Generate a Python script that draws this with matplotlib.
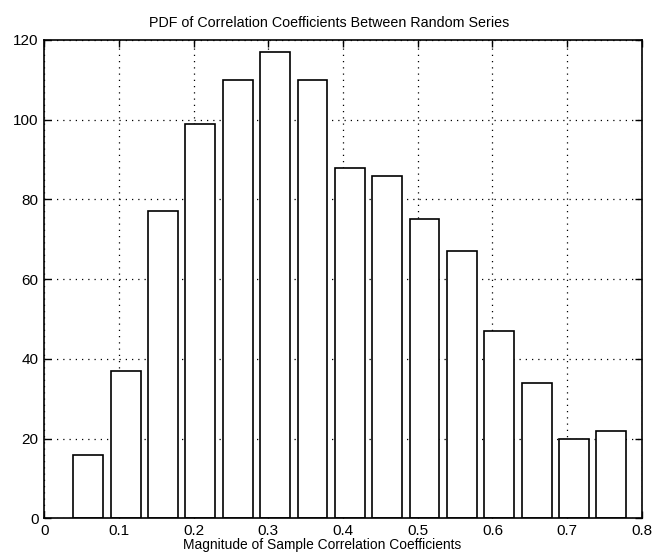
import matplotlib
matplotlib.use("Agg")
import matplotlib.pyplot as plt
import numpy as np

plt.rcParams['font.family'] = ['Liberation Sans', 'DejaVu Sans']

# Bin centres and counts
bin_centers = [0.059, 0.109, 0.159, 0.209, 0.259, 0.309, 0.359, 0.409,
               0.459, 0.509, 0.559, 0.609, 0.659, 0.709, 0.759]
counts = [16, 37, 77, 99, 110, 117, 110, 88, 86, 75, 67, 47, 34, 20, 22]
x_ticks = [0, 0.1, 0.2, 0.3, 0.4, 0.5, 0.6, 0.7, 0.8]
x_tick_labels = ['0', '0.1', '0.2', '0.3', '0.4', '0.5', '0.6', '0.7', '0.8']
y_ticks = [0, 20, 40, 60, 80, 100, 120]

title = 'PDF of Correlation Coefficients Between Random Series'
xlabel = 'Magnitude of Sample Correlation Coefficients'

fig = plt.figure(figsize=(6.56, 5.55), dpi=100)
ax = fig.add_axes([0.0675, 0.066, 0.911, 0.862])

ax.bar(bin_centers, counts, width=0.04, facecolor='white', edgecolor='black',
       linewidth=1.2, zorder=3)

ax.set_xlim(0, 0.8)
ax.set_ylim(0, 120)
ax.set_xticks(x_ticks)
ax.set_xticklabels(x_tick_labels)
ax.set_yticks(y_ticks)

ax.grid(True, linestyle=(0, (1, 4)), color='black', linewidth=0.9, zorder=1)
ax.tick_params(direction='in', length=5, width=1, top=True, right=True,
               labelsize=11, pad=4)
for s in ax.spines.values():
    s.set_linewidth(1.2)
    s.set_zorder(4)

ax.set_title(title, fontsize=10.3, pad=9, x=0.477)
ax.set_xlabel(xlabel, fontsize=9.9, labelpad=0, x=0.465)

fig.savefig('out.png', dpi=100)
